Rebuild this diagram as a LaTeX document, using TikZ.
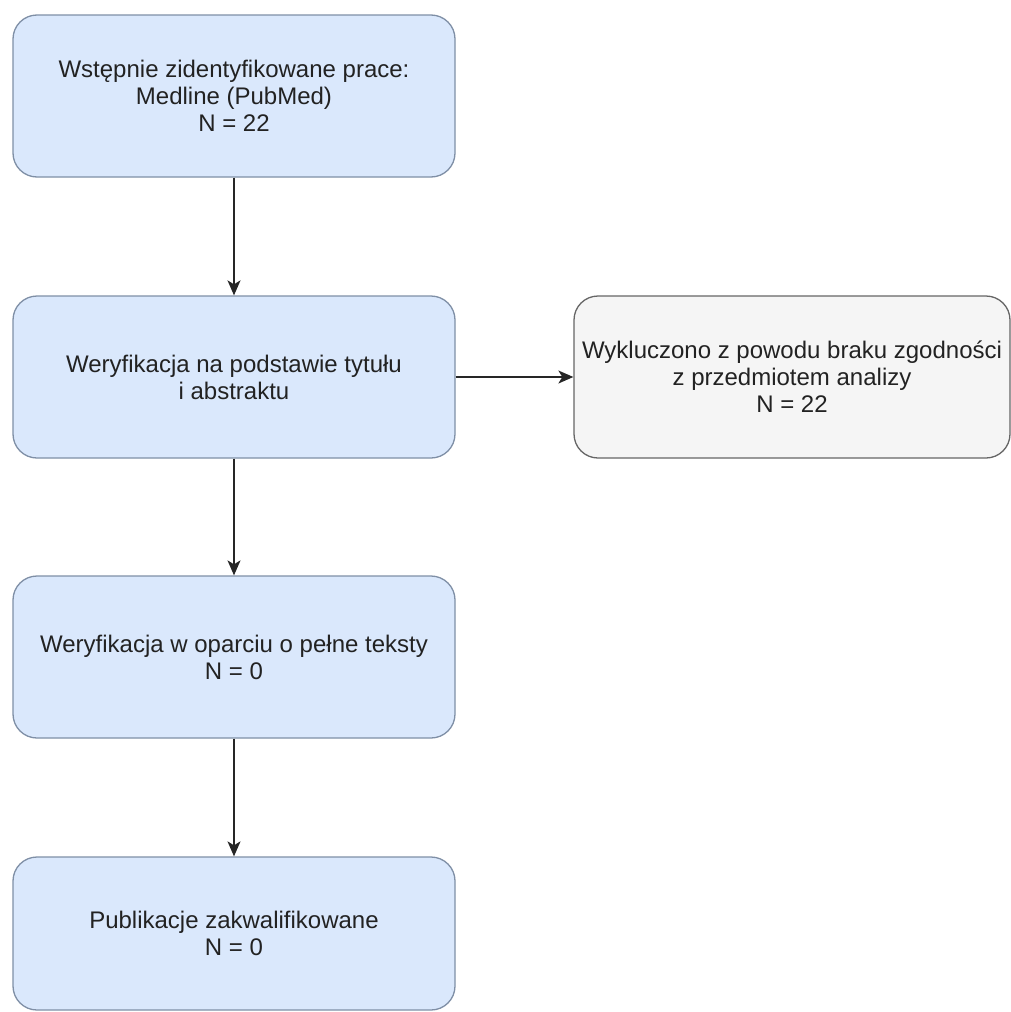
\documentclass[tikz,border=0pt]{standalone}
\usepackage{fontspec}
\setmainfont{Liberation Sans}
\usetikzlibrary{arrows.meta}
\definecolor{bluefill}{HTML}{DAE8FC}
\definecolor{bluedraw}{HTML}{7F8FA6}
\definecolor{grayfill}{HTML}{F5F5F5}
\definecolor{graydraw}{HTML}{666666}
\definecolor{txt}{HTML}{222222}
\begin{document}
\begin{tikzpicture}[x=1pt,y=-1pt,
  bluebox/.style={draw=bluedraw,fill=bluefill,line width=1.3pt,rounded corners=24pt,
    minimum width=442pt,minimum height=162pt,align=center,inner sep=0pt,
    font=\fontsize{24}{27}\selectfont,text=txt},
  graybox/.style={bluebox,draw=graydraw,fill=grayfill,minimum width=436pt},
  conn/.style={line width=1.4pt,draw=black!85,-{Stealth[length=15pt,width=13pt,inset=4pt]}}]
\useasboundingbox (0,0) rectangle (1011,1012);
\fill[white] (0,0) rectangle (1011,1012);
\node[bluebox] (b1) at (234,96) {Wstępnie zidentyfikowane prace:\\Medline (PubMed)\\N = 22};
\node[bluebox] (b2) at (234,377) {Weryfikacja na podstawie tytułu\\i abstraktu};
\node[graybox] (b3) at (792,377) {Wykluczono z powodu braku zgodności\\z przedmiotem analizy\\N = 22};
\node[bluebox] (b4) at (234,657) {Weryfikacja w oparciu o pełne teksty\\N = 0};
\node[bluebox,minimum height=153pt] (b5) at (234,933.5) {Publikacje zakwalifikowane\\N = 0};
\draw[conn] (b1) -- (b2);
\draw[conn] (b2) -- (b3);
\draw[conn] (b2) -- (b4);
\draw[conn] (b4) -- (b5);
\end{tikzpicture}
\end{document}
